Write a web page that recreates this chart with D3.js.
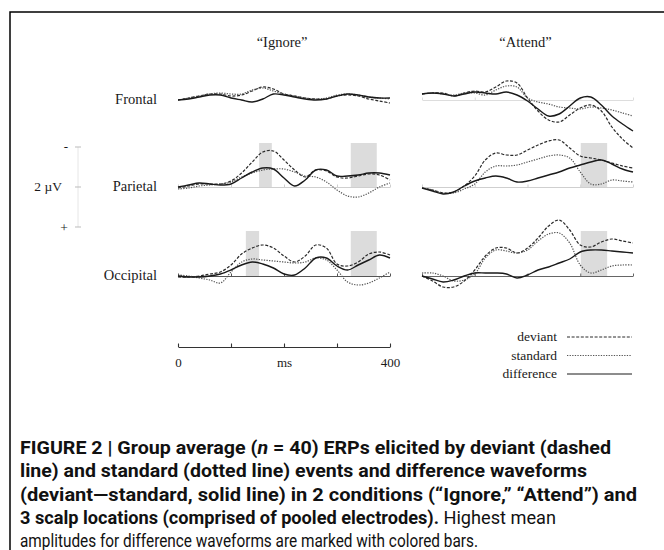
<!DOCTYPE html>
<html>
  <head>
    <meta charset="utf-8">
    <script type="text/javascript" src="https://cdn.jsdelivr.net/npm/d3@7"></script>
    <style type="text/css">

html, body {
  margin: 0;
  background: #fff;
}

svg {
  display: block;
}

.fig text {
  font-family: "Liberation Serif", "DejaVu Serif", serif;
  fill: #1a1a1a;
}

.caption text {
  font-family: Roboto, "Liberation Sans", sans-serif;
  font-size: 18px;
  fill: #111;
}

    </style>
  </head>
  <body>
    <div id="chart"></div>
    <script type="text/javascript">

// sample times (ms) for every waveform
var times = [0, 20, 40, 60, 80, 100, 120, 140, 160, 180, 200,
             220, 240, 260, 280, 300, 320, 340, 360, 380, 400];

var conditions = ["\u201cIgnore\u201d", "\u201cAttend\u201d"],
    locations = ["Frontal", "Parietal", "Occipital"],
    timeTicks = [0, 100, 200, 300, 400],
    timeLabels = {0: "0", 200: "ms", 400: "400"},
    legendLabels = ["deviant", "standard", "difference"];

// amplitudes in µV (negative plotted upward)
var ignoreFrontalDeviant  = [0, -0.1, -0.2, -0.3, -0.3, -0.2, -0.25, -0.45, -0.65, -0.55, -0.3, -0.2, -0.1, -0.05, -0.05, -0.2, -0.25, -0.2, -0.05, 0.05, 0.15];
var ignoreFrontalStandard = [0, -0.1, -0.2, -0.3, -0.35, -0.3, -0.3, -0.5, -0.6, -0.45, -0.3, -0.2, -0.1, -0.05, -0.1, -0.25, -0.3, -0.25, -0.15, -0.1, -0.05];
var ignoreFrontalDiff     = [0, -0.05, -0.15, -0.25, -0.25, -0.1, 0, 0.1, -0.05, -0.3, -0.25, -0.15, -0.05, 0, -0.05, -0.2, -0.3, -0.25, -0.15, -0.1, -0.1];

var ignoreParietalDeviant  = [0.05, -0.05, -0.15, -0.15, -0.15, -0.3, -0.7, -1.25, -1.75, -1.8, -1.35, -0.85, -0.5, -0.85, -0.8, -0.5, -0.45, -0.55, -0.65, -0.6, -0.35];
var ignoreParietalStandard = [0.1, 0.05, -0.05, -0.1, -0.15, -0.25, -0.5, -0.7, -0.85, -0.9, -0.9, -0.75, -0.55, -0.5, -0.25, 0.15, 0.45, 0.5, 0.3, 0, -0.2];
var ignoreParietalDiff     = [0, -0.1, -0.2, -0.15, -0.1, -0.15, -0.45, -0.75, -0.95, -0.9, -0.45, -0.05, -0.35, -0.85, -0.85, -0.55, -0.55, -0.6, -0.7, -0.7, -0.6];

var ignoreOccipitalDeviant  = [0.05, 0.05, 0, -0.1, -0.2, -0.55, -1.1, -1.4, -1.55, -1.4, -1.0, -0.7, -1.0, -1.55, -1.4, -0.6, -0.5, -0.7, -1.1, -1.2, -1.05];
var ignoreOccipitalStandard = [-0.05, 0, 0.1, 0.2, 0.35, -0.2, -0.7, -0.85, -0.8, -0.75, -0.7, -0.65, -0.7, -0.9, -0.8, -0.3, 0.3, 0.45, 0.35, 0.1, -0.2];
var ignoreOccipitalDiff     = [0, 0.05, 0.05, 0, -0.1, -0.3, -0.55, -0.7, -0.6, -0.4, -0.1, -0.05, -0.4, -0.9, -0.9, -0.5, -0.3, -0.55, -0.8, -1.05, -0.9];

var attendFrontalDeviant  = [-0.3, -0.35, -0.35, -0.2, -0.35, -0.45, -0.4, -0.65, -0.95, -0.85, -0.1, 0.55, 1.0, 1.1, 0.75, 0.4, 0.25, 0.55, 1.35, 1.95, 2.4];
var attendFrontalStandard = [-0.3, -0.35, -0.3, -0.25, -0.35, -0.35, -0.25, -0.5, -0.7, -0.65, -0.1, 0.1, 0.2, 0.35, 0.4, 0.45, 0.35, 0.4, 0.5, 0.65, 0.8];
var attendFrontalDiff     = [-0.3, -0.35, -0.3, -0.2, -0.3, -0.4, -0.35, -0.3, -0.4, -0.25, 0.05, 0.45, 0.8, 0.7, 0.3, -0.1, -0.15, 0.25, 0.8, 1.2, 1.55];

var attendParietalDeviant  = [0.05, 0.15, 0.3, 0.25, -0.05, -0.55, -1.35, -1.7, -1.6, -1.6, -1.85, -2.1, -2.3, -2.35, -1.95, -1.55, -1.45, -1.35, -1.2, -1.05, -0.95];
var attendParietalStandard = [0.05, 0.15, 0.3, 0.3, 0.1, -0.15, -0.75, -1.05, -1.05, -1.1, -1.25, -1.4, -1.55, -1.6, -1.45, -0.75, -0.15, -0.15, -0.35, -0.3, -0.25];
var attendParietalDiff     = [0.05, 0.2, 0.35, 0.25, -0.05, -0.3, -0.45, -0.55, -0.45, -0.25, -0.3, -0.45, -0.6, -0.75, -0.95, -1.1, -1.25, -1.35, -1.15, -0.9, -0.75];

var attendOccipitalDeviant  = [0, 0.25, 0.55, 0.55, 0.25, -0.3, -1.0, -1.4, -1.4, -1.15, -1.4, -1.9, -2.5, -2.8, -2.3, -1.55, -1.45, -1.7, -1.85, -1.75, -1.65];
var attendOccipitalStandard = [-0.15, -0.15, 0, 0.25, 0.2, -0.1, -0.9, -1.3, -1.25, -1.15, -1.3, -1.75, -2.1, -2.15, -1.65, -0.55, -0.15, -0.3, -0.5, -0.55, -0.55];
var attendOccipitalDiff     = [0, 0.15, 0.3, 0.2, 0, -0.15, -0.15, -0.15, -0.1, 0.1, -0.05, -0.3, -0.45, -0.65, -0.85, -1.2, -1.3, -1.3, -1.25, -1.2, -1.15];

// highest mean amplitude windows (ms) and bar height (µV)
var highlightWindows = [
  {condition: 0, location: 1, start: 153, end: 177, top: -2.2},
  {condition: 0, location: 1, start: 326, end: 375, top: -2.2},
  {condition: 0, location: 2, start: 128, end: 153, top: -2.25},
  {condition: 0, location: 2, start: 326, end: 375, top: -2.25},
  {condition: 1, location: 1, start: 301, end: 351, top: -2.2},
  {condition: 1, location: 2, start: 301, end: 351, top: -2.25}
];

var captionLines = [
  [{t: "FIGURE 2 | Group average (", b: 1}, {t: "n", b: 1, i: 1}, {t: " = 40) ERPs elicited by deviant (dashed", b: 1}],
  [{t: "line) and standard (dotted line) events and difference waveforms", b: 1}],
  [{t: "(deviant\u2014standard, solid line) in 2 conditions (\u201cIgnore,\u201d \u201cAttend\u201d) and", b: 1}],
  [{t: "3 scalp locations (comprised of pooled electrodes).", b: 1}, {t: " Highest mean", b: 0}],
  [{t: "amplitudes for difference waveforms are marked with colored bars.", b: 0}]
];

var waves = [
  [[ignoreFrontalDeviant, ignoreFrontalStandard, ignoreFrontalDiff],
   [ignoreParietalDeviant, ignoreParietalStandard, ignoreParietalDiff],
   [ignoreOccipitalDeviant, ignoreOccipitalStandard, ignoreOccipitalDiff]],
  [[attendFrontalDeviant, attendFrontalStandard, attendFrontalDiff],
   [attendParietalDeviant, attendParietalStandard, attendParietalDiff],
   [attendOccipitalDeviant, attendOccipitalStandard, attendOccipitalDiff]]
];

var width = 664,
    height = 550,
    panelX = [[178, 390], [422, 633]],
    rowBase = [100, 187, 276],
    pxPer2uV = 40,
    baseColor = [["none", "#cfcfcf", "#555"], ["#ddd", "#cfcfcf", "#666"]],
    lineStyle = [
      {stroke: "#2a2a2a", width: 1.2, dash: "3,1.6"},
      {stroke: "#555", width: 1.2, dash: "1.3,1.3"},
      {stroke: "#1a1a1a", width: 1.4, dash: null}
    ];

var svg = d3.select("#chart").append("svg")
    .attr("width", width)
    .attr("height", height);

// frame
svg.append("path")
    .attr("d", "M10," + height + "V12H" + width)
    .attr("fill", "none")
    .attr("stroke", "#000")
    .attr("stroke-width", 1.5);

var fig = svg.append("g").attr("class", "fig");

fig.selectAll("text.cond")
    .data(conditions)
  .enter().append("text")
    .attr("class", "cond")
    .attr("x", function(d, i) { return (panelX[i][0] + panelX[i][1]) / 2 - 2; })
    .attr("y", 47)
    .attr("text-anchor", "middle")
    .style("font-size", "14.5px")
    .text(function(d) { return d; });

fig.selectAll("text.loc")
    .data(locations)
  .enter().append("text")
    .attr("class", "loc")
    .attr("x", 157)
    .attr("y", function(d, i) { return rowBase[i] + 4; })
    .attr("text-anchor", "end")
    .style("font-size", "14.5px")
    .text(function(d) { return d; });

var line = d3.line().curve(d3.curveCatmullRom.alpha(0.5));

conditions.forEach(function(cond, c) {
  var x = d3.scaleLinear().domain([0, 400]).range(panelX[c]);

  locations.forEach(function(loc, r) {
    var base = rowBase[r];
    var y = d3.scaleLinear().domain([-2, 2]).range([base - pxPer2uV, base + pxPer2uV]);
    var g = fig.append("g");

    g.selectAll("rect")
        .data(highlightWindows.filter(function(w) { return w.condition == c && w.location == r; }))
      .enter().append("rect")
        .attr("x", function(w) { return x(w.start); })
        .attr("width", function(w) { return x(w.end) - x(w.start); })
        .attr("y", function(w) { return y(w.top); })
        .attr("height", function(w) { return y(0) - y(w.top); })
        .attr("fill", "#dcdcdc");

    if (baseColor[c][r] != "none") {
      var axis = g.append("g")
          .attr("transform", "translate(0," + y(0) + ")")
          .call(d3.axisBottom(x).tickValues(timeTicks).tickSizeInner(-2.5).tickSizeOuter(0).tickFormat(""));
      axis.selectAll("path, line").attr("stroke", baseColor[c][r]);
    }

    waves[c][r].forEach(function(series, s) {
      var st = lineStyle[s];
      line.x(function(d, i) { return x(times[i]); })
          .y(function(d) { return y(d); });
      g.append("path")
          .attr("d", line(series))
          .attr("fill", "none")
          .attr("stroke", st.stroke)
          .attr("stroke-width", st.width)
          .attr("stroke-dasharray", st.dash);
    });
  });
});

// time axis under the "Ignore" column
var xIgnore = d3.scaleLinear().domain([0, 400]).range(panelX[0]);
var timeAxis = fig.append("g")
    .attr("transform", "translate(0,347)")
    .call(d3.axisBottom(xIgnore)
      .tickValues(timeTicks)
      .tickSizeInner(-3.5)
      .tickSizeOuter(0)
      .tickPadding(11)
      .tickFormat(function(d) { return timeLabels[d] || ""; }));
timeAxis.selectAll("path, line").attr("stroke", "#333").attr("stroke-width", 1.1);
timeAxis.selectAll("text")
    .style("font-family", "'Liberation Serif', serif")
    .style("font-size", "13px")
    .attr("fill", "#222");

// 2 µV scale bar
var yScale = d3.scaleLinear().domain([-2, 2]).range([rowBase[1] - pxPer2uV, rowBase[1] + pxPer2uV]);
fig.append("line")
    .attr("x1", 78).attr("x2", 78)
    .attr("y1", yScale(-2)).attr("y2", yScale(2))
    .attr("stroke", "#e6e6e6");
fig.selectAll("line.sbtick")
    .data([-2, 0, 2])
  .enter().append("line")
    .attr("class", "sbtick")
    .attr("x1", 75).attr("x2", 81)
    .attr("y1", yScale).attr("y2", yScale)
    .attr("stroke", "#bbb");
fig.append("text").attr("x", 66).attr("y", yScale(-2) + 4).attr("text-anchor", "middle")
    .style("font-size", "13px").text("-");
fig.append("text").attr("x", 62).attr("y", yScale(0) + 4).attr("text-anchor", "end")
    .style("font-size", "13.5px").text("2 \u00b5V");
fig.append("text").attr("x", 64).attr("y", yScale(2) + 5).attr("text-anchor", "middle")
    .style("font-size", "13.5px").text("+");

// legend
var legend = fig.selectAll("g.legend")
    .data(legendLabels)
  .enter().append("g")
    .attr("class", "legend")
    .attr("transform", function(d, i) { return "translate(0," + (337 + i * 18.5) + ")"; });
legend.append("text")
    .attr("x", 557)
    .attr("y", 4)
    .attr("text-anchor", "end")
    .style("font-size", "13.5px")
    .text(function(d) { return d; });
legend.append("line")
    .attr("x1", 567).attr("x2", 632)
    .attr("stroke", function(d, i) { return lineStyle[i].stroke; })
    .attr("stroke-width", 1)
    .attr("stroke-dasharray", function(d, i) { return lineStyle[i].dash; });

// caption
var captionEnds = [611, 587, 637, 556, 478];
var caption = svg.append("g").attr("class", "caption");
captionLines.forEach(function(parts, k) {
  var t = caption.append("text")
      .attr("x", 20)
      .attr("y", 454 + k * 23.3)
      .attr("textLength", captionEnds[k] - 20)
      .attr("lengthAdjust", "spacingAndGlyphs");
  parts.forEach(function(p) {
    t.append("tspan")
        .style("font-weight", p.b ? "bold" : "normal")
        .style("font-style", p.i ? "italic" : "normal")
        .text(p.t);
  });
});

    </script>
  </body>
</html>
